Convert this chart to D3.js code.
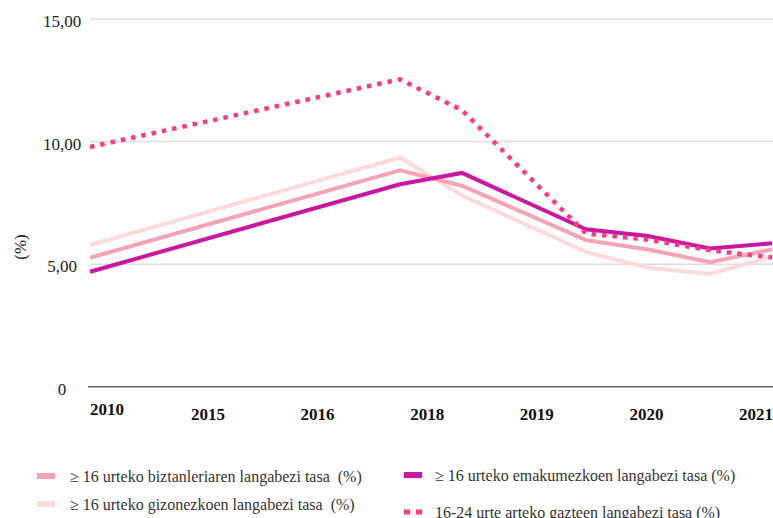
<!DOCTYPE html>
<html>
<head>
    <meta charset="UTF-8">
    <title>Langabezi tasa</title>
    <script src="https://cdn.jsdelivr.net/npm/d3@7"></script>
    <style>
        body { margin: 0; background: #fff; }
        svg text { fill: #222; }
        .grid line { stroke: #dcdcdc; stroke-width: 1.5px; }
        .xlab { font-weight: bold; font-size: 17px; fill: #111; }
        .ylab { font-size: 17px; }
        .legend text { font-size: 16px; fill: #333; white-space: pre; }
        .line { fill: none; stroke-linejoin: miter; }
    </style>
</head>
<body>
<svg id="chart" width="773" height="518" font-family="'Liberation Serif', 'Times New Roman', Times, serif"></svg>
<script>
    // years and tick labels
    const years = [2010, 2015, 2016, 2018, 2019, 2020, 2021];
    const yearLabels = ['2010', '2015', '2016', '2018', '2019', '2020', '2021'];
    const yTicks = [0, 5, 10, 15];

    // series values (%)
    const biztanleria = [5.26, 8.83, 8.2, 5.98, 5.6, 5.08, 5.6];
    const gizonezkoak = [5.78, 9.35, 7.8, 5.5, 4.85, 4.6, 5.3];
    const emakumezkoak = [4.69, 8.26, 8.72, 6.42, 6.15, 5.64, 5.85];
    const gazteak = [9.78, 12.54, 11.28, 6.25, 6.0, 5.57, 5.27];

    const seriesNames = [
        '≥ 16 urteko biztanleriaren langabezi tasa  (%)',
        '≥ 16 urteko gizonezkoen langabezi tasa  (%)',
        '≥ 16 urteko emakumezkoen langabezi tasa (%)',
        '16-24 urte arteko gazteen langabezi tasa (%)'
    ];

    const series = [
        { name: seriesNames[1], values: gizonezkoak, color: '#fddbdc', dash: null },
        { name: seriesNames[0], values: biztanleria, color: '#f7a3b7', dash: null },
        { name: seriesNames[2], values: emakumezkoak, color: '#c9189f', dash: null },
        { name: seriesNames[3], values: gazteak, color: '#ff3b7e', dash: '4.5,6' }
    ];

    const svg = d3.select('#chart');

    const x = d3.scaleLinear().domain([2010, 2021]).range([90, 772]);
    const y = d3.scaleLinear().domain([0, 15]).range([386.7, 19]);
    const xLab = d3.scalePoint().domain(yearLabels).range([98.4, 756]);

    // grid
    svg.append('g')
        .attr('class', 'grid')
        .selectAll('line')
        .data(yTicks.filter(d => d > 0))
        .enter()
        .append('line')
        .attr('x1', 90).attr('x2', 773)
        .attr('y1', d => y(d)).attr('y2', d => y(d));

    svg.append('line')
        .attr('x1', 88).attr('x2', 773)
        .attr('y1', y(0)).attr('y2', y(0))
        .attr('stroke', '#666').attr('stroke-width', 1.5);

    // y labels
    svg.append('g')
        .selectAll('text')
        .data(yTicks)
        .enter()
        .append('text')
        .attr('class', 'ylab')
        .attr('x', 62)
        .attr('y', d => y(d) + 2)
        .attr('dy', '0.35em')
        .attr('text-anchor', 'middle')
        .text(d => d === 0 ? '0' : d3.format('.2f')(d).replace('.', ','));

    svg.append('text')
        .attr('class', 'ylab')
        .attr('transform', 'translate(20,247) rotate(-90)')
        .attr('text-anchor', 'middle')
        .attr('dy', '0.35em')
        .text('(%)');

    // x labels
    svg.append('g')
        .selectAll('text')
        .data(yearLabels)
        .enter()
        .append('text')
        .attr('class', 'xlab')
        .attr('x', (d, i) => i === 0 ? 90 : xLab(d))
        .attr('y', (d, i) => i === 0 ? 415 : 420)
        .attr('text-anchor', (d, i) => i === 0 ? 'start' : 'middle')
        .text(d => d);

    // lines
    const line = d3.line()
        .x((d, i) => x(years[i]))
        .y(d => y(d));

    svg.append('g')
        .selectAll('path')
        .data(series)
        .enter()
        .append('path')
        .attr('class', 'line')
        .attr('d', d => line(d.values))
        .attr('stroke', d => d.color)
        .attr('stroke-width', d => d.dash ? 4.5 : 4)
        .attr('stroke-dasharray', d => d.dash);

    // legend
    const legendItems = [
        { s: series[1], x: 37, y: 476 },
        { s: series[0], x: 37, y: 504 },
        { s: series[2], x: 404, y: 475 },
        { s: series[3], x: 404, y: 512 }
    ];

    const lg = svg.append('g').attr('class', 'legend')
        .selectAll('g')
        .data(legendItems)
        .enter()
        .append('g');

    lg.append('line')
        .attr('x1', d => d.x)
        .attr('x2', d => d.x + (d.s.dash ? 19 : 18))
        .attr('y1', d => d.y).attr('y2', d => d.y)
        .attr('stroke', d => d.s.color)
        .attr('stroke-width', d => d.s.dash ? 5 : 6)
        .attr('stroke-dasharray', d => d.s.dash ? '6,6' : null);

    lg.append('text')
        .attr('x', d => d.x + (d.x > 100 ? 31 : 33))
        .attr('y', d => d.y)
        .attr('dy', '0.35em')
        .text(d => d.s.name);
</script>
</body>
</html>
